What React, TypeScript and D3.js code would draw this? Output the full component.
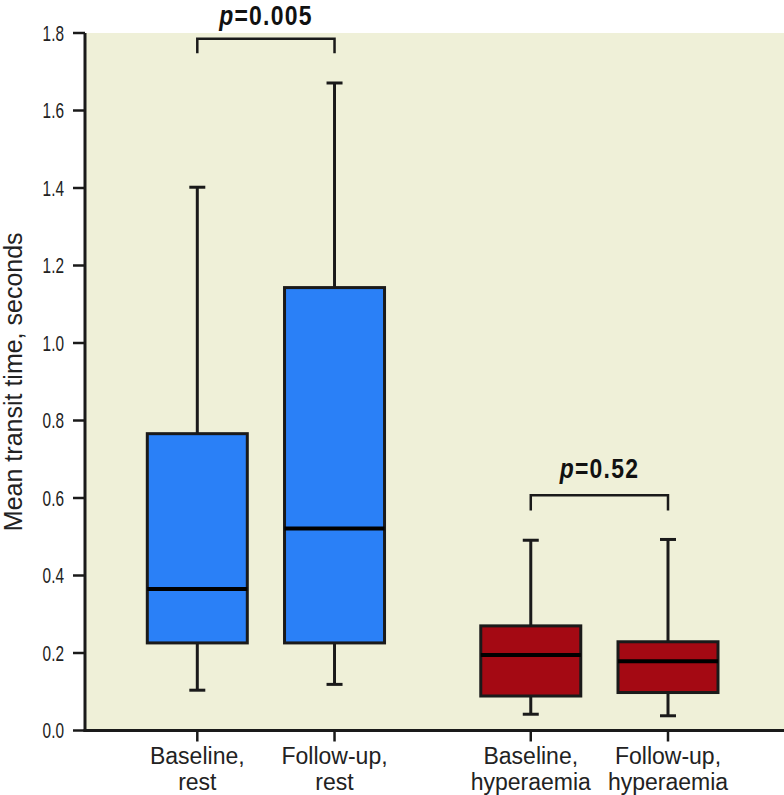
import React from "react";
import * as d3 from "d3";

const labelLine1 = ["Baseline,", "Follow-up,", "Baseline,", "Follow-up,"];
const labelLine2 = ["rest", "rest", "hyperaemia", "hyperaemia"];
const slot = [0, 1, 2.43, 3.43];
const whiskerLow = [0.104, 0.119, 0.042, 0.038];
const q1 = [0.226, 0.226, 0.089, 0.098];
const median = [0.365, 0.521, 0.195, 0.179];
const q3 = [0.766, 1.143, 0.27, 0.229];
const whiskerHigh = [1.402, 1.671, 0.491, 0.493];
const boxColors = ["#2a80f7", "#2a80f7", "#a40913", "#a40913"];
const yTicks = [0, 0.2, 0.4, 0.6, 0.8, 1.0, 1.2, 1.4, 1.6, 1.8];
const yLabel = "Mean transit time, seconds";

const bracketFrom = [0, 2];
const bracketTo = [1, 3];
const bracketTop = [1.785, 0.607];
const bracketLeg = [1.748, 0.568];
const bracketText = [1.8206, 0.651];
const bracketP = ["=0.005", "=0.52"];

const W = 784;
const H = 795;
const left = 85;
const right = 784;
const top = 33;
const bottom = 730.5;

const regular = "'Liberation Sans', Arial, sans-serif";

export default function App() {
  const y = d3.scaleLinear().domain([0, 1.8]).range([bottom, top]);
  const x = d3.scaleLinear().domain([0, 3.43]).range([197.3, 668]);
  const boxW = 100;
  const capW = 16;
  const ink = "#1a1a1a";

  return (
    <svg width={W} height={H} style={{ position: "absolute", left: 0, top: 0, background: "#fff" }}>
      <rect x={left} y={top} width={right - left} height={bottom - top} fill="#eff0d8" />
      {/* boxes */}
      {slot.map((s, i) => {
        const cx = x(s);
        return (
          <g key={i}>
            <line x1={cx} x2={cx} y1={y(whiskerHigh[i])} y2={y(q3[i])} stroke={ink} strokeWidth={3} />
            <line x1={cx} x2={cx} y1={y(q1[i])} y2={y(whiskerLow[i])} stroke={ink} strokeWidth={3} />
            <line x1={cx - capW / 2} x2={cx + capW / 2} y1={y(whiskerHigh[i])} y2={y(whiskerHigh[i])} stroke={ink} strokeWidth={3} />
            <line x1={cx - capW / 2} x2={cx + capW / 2} y1={y(whiskerLow[i])} y2={y(whiskerLow[i])} stroke={ink} strokeWidth={3} />
            <rect x={cx - boxW / 2} y={y(q3[i])} width={boxW} height={y(q1[i]) - y(q3[i])} fill={boxColors[i]} stroke={ink} strokeWidth={3} />
            <line x1={cx - boxW / 2} x2={cx + boxW / 2} y1={y(median[i])} y2={y(median[i])} stroke="#000" strokeWidth={4} />
          </g>
        );
      })}
      {/* axes */}
      <line x1={left} x2={left} y1={top} y2={bottom + 1.5} stroke={ink} strokeWidth={3} />
      <line x1={left - 1.5} x2={right} y1={bottom} y2={bottom} stroke={ink} strokeWidth={3} />
      {yTicks.map((t) => (
        <g key={t}>
          <line x1={left - 12} x2={left} y1={y(t)} y2={y(t)} stroke={ink} strokeWidth={2.5} />
          <text
            transform={`translate(64,${y(t)}) scale(0.7,1)`}
            dy="0.36em"
            textAnchor="end"
            fontFamily={regular}
            fontSize={22}
            fill="#222"
          >
            {d3.format(".1f")(t)}
          </text>
        </g>
      ))}
      {slot.map((s, i) => (
        <g key={"xl" + i}>
          <line x1={x(s)} x2={x(s)} y1={bottom} y2={bottom + 11} stroke={ink} strokeWidth={2.5} />
          <text x={x(s)} y={764} textAnchor="middle" fontFamily={regular} fontSize={23} fill="#222">
            {labelLine1[i]}
          </text>
          <text x={x(s)} y={790} textAnchor="middle" fontFamily={regular} fontSize={23} fill="#222">
            {labelLine2[i]}
          </text>
        </g>
      ))}
      <text
        transform={`translate(22,${(top + bottom) / 2}) rotate(-90)`}
        textAnchor="middle"
        fontFamily={regular}
        fontSize={25}
        fill="#222"
      >
        {yLabel}
      </text>
      {/* brackets */}
      {bracketFrom.map((f, i) => {
        const x1 = x(slot[f]);
        const x2 = x(slot[bracketTo[i]]);
        return (
          <g key={"b" + i}>
            <path
              d={`M${x1},${y(bracketLeg[i])}V${y(bracketTop[i])}H${x2}V${y(bracketLeg[i])}`}
              fill="none"
              stroke={ink}
              strokeWidth={2.5}
            />
            <text
              transform={`translate(${(x1 + x2) / 2},${y(bracketText[i])}) scale(0.82,1)`}
              textAnchor="middle"
              fontFamily={regular}
              fontWeight="bold"
              fontSize={28}
              letterSpacing={1.5}
              fill="#111"
            >
              <tspan fontStyle="italic">p</tspan>
              {bracketP[i]}
            </text>
          </g>
        );
      })}
    </svg>
  );
}
